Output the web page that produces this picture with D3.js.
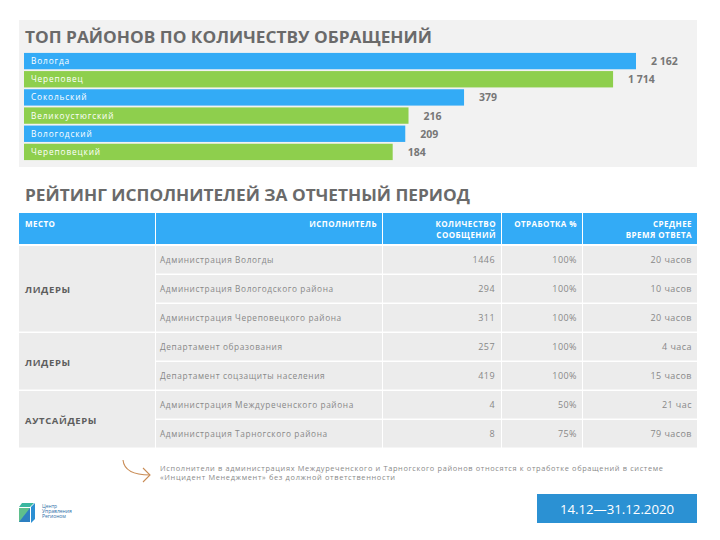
<!DOCTYPE html>
<html><head><meta charset="utf-8">
<script src="https://cdn.jsdelivr.net/npm/d3@7"></script>
<style>body{margin:0;background:#fff}svg{display:block;font-family:"Open Sans",sans-serif}</style>
</head><body><svg id="c" width="720" height="540"></svg>
<script>
const title1 = "ТОП РАЙОНОВ ПО КОЛИЧЕСТВУ ОБРАЩЕНИЙ";
const title2 = "РЕЙТИНГ ИСПОЛНИТЕЛЕЙ ЗА ОТЧЕТНЫЙ ПЕРИОД";
const districts = ["Вологда","Череповец","Сокольский","Великоустюгский","Вологодский","Череповецкий"];
const requests = [2162,1714,379,216,209,184];

const headers = [["МЕСТО"],["ИСПОЛНИТЕЛЬ"],["КОЛИЧЕСТВО","СООБЩЕНИЙ"],["ОТРАБОТКА %"],["СРЕДНЕЕ","ВРЕМЯ ОТВЕТА"]];
const groups = ["ЛИДЕРЫ","ЛИДЕРЫ","АУТСАЙДЕРЫ"];
const groupSizes = [3,2,2];
const executors = ["Администрация Вологды","Администрация Вологодского района","Администрация Череповецкого района","Департамент образования","Департамент соцзащиты населения","Администрация Междуреченского района","Администрация Тарногского района"];
const messages = [1446,294,311,257,419,4,8];
const completion = [100,100,100,100,100,50,75];
const avgTime = ["20 часов","10 часов","20 часов","4 часа","15 часов","21 час","79 часов"];
const noteLines = ["Исполнители в администрациях Междуреченского и Тарногского районов относятся к отработке обращений в системе","«Инцидент Менеджмент» без должной ответственности"];
const period = "14.12—31.12.2020";
const logoLines = ["Центр","Управления","Регионом"];

const svg = d3.select("#c");
const blue = "#33abf6", green = "#8ecf4d", grayT = "#6a6a6a";
const fmt = d3.formatLocale({decimal:",", thousands:" ", grouping:[3], currency:["",""]}).format(",");

// top panel
svg.append("rect").attr("x",19).attr("y",20).attr("width",678).attr("height",147).attr("fill","#f2f2f2");
svg.append("text").attr("x",25).attr("y",43).attr("font-size",15.5).attr("font-weight",700).attr("fill",grayT)
  .attr("textLength",407).attr("lengthAdjust","spacingAndGlyphs").text(title1);

const y = d3.scaleBand().domain(districts).range([52,161]).paddingInner(0.1).paddingOuter(0.05);
const x = d3.scaleLog().domain([4.4,2162]).range([24,636]);
const bars = svg.append("g").selectAll("g").data(districts).join("g");
bars.append("rect").attr("x",24).attr("y",d=>y(d)).attr("height",y.bandwidth())
  .attr("width",(d,i)=>x(requests[i])-24).attr("fill",(d,i)=>i%2?green:blue);
bars.append("text").attr("x",31).attr("y",d=>y(d)+y.bandwidth()/2+3).attr("font-size",8.3).attr("letter-spacing",0.85).attr("fill","#fff").text(d=>d);
bars.append("text").attr("x",(d,i)=>x(requests[i])+15).attr("y",d=>y(d)+y.bandwidth()/2+4)
  .attr("font-size",10.5).attr("font-weight",700).attr("fill","#777").text((d,i)=>fmt(requests[i]));

// second title
svg.append("text").attr("x",25).attr("y",201).attr("font-size",15.5).attr("font-weight",700).attr("fill",grayT)
  .attr("textLength",445).attr("lengthAdjust","spacingAndGlyphs").text(title2);

// table
const colEdges = [19,155,382,501,582,697];
const hdrTop = 213, hdrBot = 244, bodyTop = 246, bodyBot = 449;
const rowY = d3.scaleBand().domain(d3.range(executors.length)).range([bodyTop,bodyBot]);
const t = svg.append("g");
headers.forEach((h,i)=>{
  t.append("rect").attr("x",colEdges[i]+(i?1:0)).attr("y",hdrTop).attr("width",colEdges[i+1]-colEdges[i]-(i?1:0)).attr("height",hdrBot-hdrTop).attr("fill",blue);
  const right = i>0;
  h.forEach((ln,k)=>{
    t.append("text").attr("x",right?colEdges[i+1]-5:colEdges[i]+6).attr("y",hdrTop+14+k*11)
      .attr("text-anchor",right?"end":"start").attr("font-size",8).attr("letter-spacing",0.45).attr("font-weight",700).attr("fill","#fff").text(ln);
  });
});
let start = 0;
groups.forEach((g,gi)=>{
  const y0 = rowY(start), y1 = rowY(start+groupSizes[gi]-1)+rowY.bandwidth();
  t.append("rect").attr("x",colEdges[0]).attr("y",y0).attr("width",colEdges[1]-colEdges[0]).attr("height",y1-y0-1.5).attr("fill","#ececec");
  t.append("text").attr("x",25).attr("y",(y0+y1)/2+3.5).attr("font-size",9.5).attr("letter-spacing",0.6).attr("font-weight",700).attr("fill","#5e5e5e").text(g);
  start += groupSizes[gi];
});
executors.forEach((e,r)=>{
  for(let c=1;c<5;c++){
    t.append("rect").attr("x",colEdges[c]+1).attr("y",rowY(r)).attr("width",colEdges[c+1]-colEdges[c]-1).attr("height",rowY.bandwidth()-1.5).attr("fill","#ececec");
  }
  const cy = rowY(r)+rowY.bandwidth()/2+2.5;
  t.append("text").attr("x",160).attr("y",cy).attr("font-size",8.3).attr("letter-spacing",0.6).attr("fill","#888").text(e);
  const numAttrs = s=>s.attr("text-anchor","end").attr("font-size",9).attr("letter-spacing",0.45).attr("fill","#888");
  t.append("text").attr("x",colEdges[3]-6).attr("y",cy).call(numAttrs).text(messages[r]);
  t.append("text").attr("x",colEdges[4]-5).attr("y",cy).call(numAttrs).text(completion[r]+"%");
  t.append("text").attr("x",colEdges[5]-5).attr("y",cy).call(numAttrs).text(avgTime[r]);
});

// note with arrow
const arrow = svg.append("g").attr("fill","none").attr("stroke","#c98c55").attr("stroke-width",1.1);
arrow.append("path").attr("d","M123,460 C124,470 132,475 150,475");
arrow.append("path").attr("d","M143,468 L150,475 L143,482");
const noteLen = [503, 235];
noteLines.forEach((ln,i)=>{
  svg.append("text").attr("x",160).attr("y",471+i*8.5).attr("font-size",7.4).attr("fill","#8a8a8a")
    .attr("textLength",noteLen[i]).attr("lengthAdjust","spacing").text(ln);
});

// period box
svg.append("rect").attr("x",537).attr("y",494).attr("width",160).attr("height",29).attr("fill","#2b91d3");
svg.append("text").attr("x",617).attr("y",514).attr("text-anchor","middle").attr("font-size",13.2).attr("fill","#fff").text(period);

// logo
const lg = svg.append("g");
lg.append("path").attr("d","M22,503 L34,503 L30,507 L19,507 Z").attr("fill","#3bb7a0");
lg.append("path").attr("d","M19,508 L30,508 L30,522 L19,522 Z").attr("fill","#5fbf8c");
lg.append("path").attr("d","M19,522 L30,508 L30,522 Z").attr("fill","#2d7fc1");
lg.append("path").attr("d","M31,507 L35,503 L35,519 L31,523 Z").attr("fill","#2b8fd3");
logoLines.forEach((ln,i)=>{
  lg.append("text").attr("x",42).attr("y",508+i*4.8).attr("font-size",5).attr("fill","#2f6fa8").text(ln);
});
</script></body></html>
